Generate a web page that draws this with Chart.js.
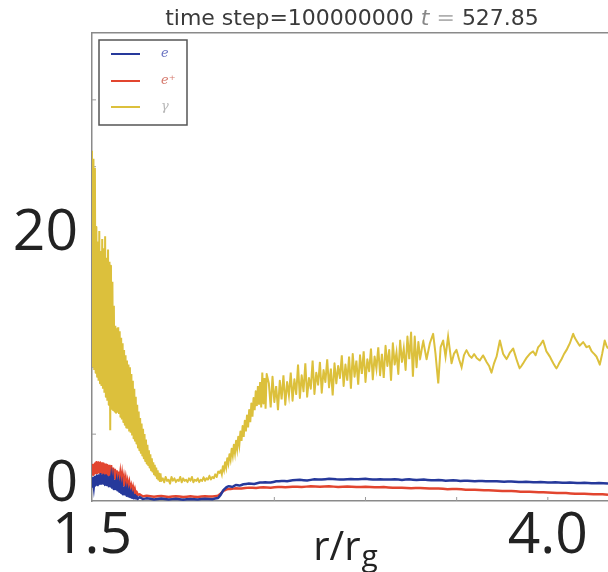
<!DOCTYPE html>
<html><head><meta charset="utf-8">
<script src="https://cdn.jsdelivr.net/npm/chart.js@4/dist/chart.umd.min.js"></script>
<style>html,body{margin:0;padding:0;background:#fff;}canvas{display:block;}</style>
</head><body>
<canvas id="c" width="608" height="572"></canvas>
<script>
const titleText = "time step=100000000 ";
const timeSymbol = "t";
const timeValue = "527.85";
const xAxisLabel = "r/r";
const xAxisLabelSub = "g";
const seriesLabels = ["e", "e\u207A", "\u03B3"];
const xTickValues = [1.5, 4.0];
const yTickValues = [0, 20];
const xMinorTicks = [2.0, 2.5, 3.0, 3.5, 4.0];
const yMinorTicks = [5, 10, 15, 20, 25, 30];

const electronR = [
1.500,1.505,1.510,1.515,1.520,1.525,1.530,1.535,1.540,1.545,
1.550,1.555,1.560,1.565,1.570,1.575,1.580,1.585,1.590,1.595,
1.600,1.605,1.610,1.615,1.620,1.625,1.630,1.635,1.640,1.645,
1.650,1.655,1.660,1.665,1.670,1.675,1.680,1.685,1.690,1.695,
1.700,1.705,1.710,1.715,1.720,1.725,1.730,1.735,1.740,1.745,1.750,
1.760,1.780,1.800,1.840,1.880,1.920,1.960,2.000,2.040,2.080,2.120,2.160,2.190,2.205,2.220,2.235,2.250,2.270,2.290,2.310,2.330,2.360,2.390,2.420,2.450,2.480,2.510,2.540,2.570,2.600,2.640,2.680,2.720,2.760,2.800,2.840,2.880,2.920,2.960,3.000,3.040,3.080,3.120,3.160,3.200,3.240,3.280,3.320,3.360,3.400,3.440,3.480,3.520,3.560,3.600,3.640,3.680,3.720,3.760,3.800,3.840,3.880,3.920,3.960,4.000,4.040,4.080,4.120,4.160,4.200,4.240,4.280,4.330];
const electronVal = [
1.0,1.7,1.1,1.8,1.2,1.9,1.2,1.9,1.3,2.0,
1.3,1.9,1.3,1.9,1.2,1.9,1.2,1.8,1.1,1.8,
1.1,1.7,1.0,1.6,0.9,1.5,0.9,1.4,0.8,1.3,
0.7,1.2,0.6,1.1,0.5,1.0,0.5,0.9,0.4,0.8,
0.35,0.7,0.3,0.6,0.25,0.5,0.2,0.45,0.2,0.35,0.15,
0.3,0.15,0.2,0.12,0.18,0.12,0.16,0.1,0.15,0.12,0.17,0.14,0.22,0.45,0.8,1.0,1.1,1.05,1.2,1.15,1.25,1.3,1.28,1.38,1.4,1.38,1.47,1.5,1.48,1.55,1.58,1.54,1.62,1.6,1.66,1.62,1.6,1.65,1.62,1.66,1.6,1.63,1.6,1.62,1.58,1.62,1.57,1.6,1.55,1.57,1.52,1.55,1.5,1.52,1.48,1.5,1.47,1.48,1.44,1.46,1.42,1.44,1.4,1.42,1.38,1.4,1.36,1.38,1.34,1.36,1.32,1.34,1.3];

const positronR = [
1.500,1.505,1.510,1.515,1.520,1.525,1.530,1.535,1.540,1.545,
1.550,1.555,1.560,1.565,1.570,1.575,1.580,1.585,1.590,1.595,
1.600,1.605,1.610,1.615,1.620,1.625,1.630,1.635,1.640,1.645,
1.650,1.655,1.660,1.665,1.670,1.675,1.680,1.685,1.690,1.695,
1.700,1.705,1.710,1.715,1.720,1.725,1.730,1.735,1.740,1.745,1.750,
1.760,1.780,1.800,1.840,1.880,1.920,1.960,2.000,2.040,2.080,2.120,2.160,2.190,2.205,2.220,2.240,2.260,2.290,2.320,2.360,2.400,2.440,2.480,2.520,2.560,2.600,2.650,2.700,2.750,2.800,2.850,2.900,2.950,3.000,3.050,3.100,3.150,3.200,3.250,3.300,3.350,3.400,3.450,3.500,3.550,3.600,3.650,3.700,3.750,3.800,3.850,3.900,3.950,4.000,4.050,4.100,4.150,4.200,4.250,4.300,4.330];
const positronVal = [
1.9,2.7,2.0,2.8,2.0,2.9,2.1,2.9,2.1,2.9,
2.1,2.9,2.0,2.8,2.0,2.8,1.9,2.7,1.9,2.7,
1.8,2.6,1.8,2.5,1.7,2.4,1.6,2.3,1.5,2.2,
1.4,2.0,1.3,1.9,1.2,1.7,1.1,1.6,1.0,1.4,
0.9,1.3,0.8,1.1,0.7,1.0,0.6,0.85,0.5,0.7,0.45,
0.5,0.35,0.4,0.32,0.38,0.3,0.36,0.3,0.35,0.3,0.36,0.33,0.4,0.55,0.75,0.88,0.9,0.95,0.93,1.0,0.98,1.03,1.0,1.05,1.03,1.07,1.05,1.1,1.07,1.1,1.05,1.08,1.04,1.06,1.02,1.04,0.99,1.0,0.96,0.97,0.93,0.94,0.88,0.9,0.85,0.84,0.8,0.79,0.75,0.74,0.7,0.69,0.66,0.64,0.6,0.59,0.55,0.54,0.5,0.5,0.47];

const photonR = [
1.500,1.504,1.508,1.512,1.516,1.520,1.524,1.528,1.532,1.536,
1.540,1.544,1.548,1.552,1.556,1.560,1.564,1.568,1.572,1.576,
1.580,1.584,1.588,1.592,1.596,1.600,1.604,1.608,1.612,1.616,
1.620,1.624,1.628,1.632,1.636,1.640,1.644,1.648,1.652,1.656,
1.660,1.664,1.668,1.672,1.676,1.680,1.684,1.688,1.692,1.696,
1.700,1.704,1.708,1.712,1.716,1.720,1.724,1.728,1.732,1.736,
1.740,1.744,1.748,1.752,1.756,1.760,1.764,1.768,1.772,1.776,
1.780,1.784,1.788,1.792,1.796,1.800,1.804,1.808,1.812,1.816,
1.820,1.824,1.828,1.832,1.836,1.840,1.844,1.848,1.852,1.856,
1.860,1.864,1.868,1.872,1.876,1.880,
1.888,1.896,1.904,1.912,1.920,1.928,1.936,1.944,1.952,1.960,
1.968,1.976,1.984,1.992,2.000,2.008,2.016,2.024,2.032,2.040,
2.048,2.056,2.064,2.072,2.080,2.088,2.096,2.104,2.112,2.120,
2.128,2.136,2.144,2.152,2.160,2.168,2.176,2.184,2.192,2.200,
2.206,2.212,2.218,2.224,2.230,2.236,2.242,2.248,2.254,2.260,
2.266,2.272,2.278,2.284,2.290,2.296,2.302,2.308,2.314,2.320,
2.326,2.332,2.338,2.344,2.350,2.356,2.362,2.368,2.374,2.380,
2.386,2.392,2.398,2.404,2.410,2.416,2.422,2.428,2.434,2.440,
2.446,2.452,2.458,
2.47,2.48,2.49,2.50,2.51,2.52,2.53,2.54,2.55,2.56,
2.57,2.58,2.59,2.60,2.61,2.62,2.63,2.64,2.65,2.66,
2.67,2.68,2.69,2.70,2.71,2.72,2.73,2.74,2.75,2.76,
2.77,2.78,2.79,2.80,2.81,2.82,2.83,2.84,2.85,2.86,
2.87,2.88,2.89,2.90,2.91,2.92,2.93,2.94,2.95,2.96,
2.97,2.98,2.99,3.00,3.01,3.02,3.03,3.04,3.05,3.06,
3.07,3.08,3.09,3.10,3.11,3.12,3.13,3.14,3.15,3.16,
3.17,3.18,3.19,3.20,3.21,3.22,3.23,3.24,3.25,3.26,
3.27,3.28,3.29,3.30,
3.316,3.335,3.353,3.371,3.384,3.399,3.412,3.426,3.439,3.453,
3.472,3.485,3.499,3.513,3.527,3.540,3.554,3.568,3.582,3.596,
3.609,3.627,3.645,3.664,3.678,3.691,3.705,3.719,3.737,3.755,
3.774,3.792,3.810,3.828,3.846,3.865,3.883,3.901,3.919,3.933,
3.947,3.960,3.974,3.992,4.011,4.030,4.048,4.062,4.075,4.089,
4.103,4.121,4.139,4.148,4.157,4.175,4.194,4.212,4.226,4.240,
4.254,4.267,4.285,4.298,4.312,4.322,4.330];
const photonVal = [
26.2,10.0,25.6,9.8,24.9,9.6,20.5,9.3,19.4,9.0,
20.2,8.8,18.7,8.6,19.6,8.4,18.9,8.1,19.8,7.8,
18.2,7.5,18.8,7.2,17.9,5.3,17.6,6.9,16.4,6.8,
14.6,6.7,13.1,6.6,12.9,6.6,13.0,6.5,12.7,6.3,
12.2,6.1,11.8,5.9,11.3,5.7,10.9,5.5,10.5,5.4,
10.2,5.2,10.0,5.1,9.5,4.9,9.0,4.7,8.4,4.5,
7.8,4.3,7.2,4.0,6.7,3.8,6.2,3.6,5.8,3.4,
5.4,3.2,5.0,3.0,4.6,2.8,4.2,2.7,3.8,2.5,
3.5,2.3,3.2,2.2,2.9,2.0,2.7,1.9,2.5,1.7,
2.3,1.6,2.1,1.5,2.0,1.5,
1.7,1.4,1.8,1.5,1.6,1.3,1.8,1.5,1.7,1.4,
1.6,1.5,1.8,1.4,1.7,1.5,1.6,1.4,1.7,1.5,
1.8,1.4,1.6,1.5,1.7,1.4,1.6,1.5,1.8,1.5,
1.7,1.6,1.9,1.6,1.8,1.7,2.0,1.8,2.2,2.1,
2.3,2.0,2.6,2.3,2.9,2.5,3.2,2.8,3.5,3.1,
3.9,3.4,4.2,3.6,4.5,3.9,4.8,4.2,5.2,4.5,
5.6,4.8,6.0,5.2,6.4,5.5,6.8,5.9,7.3,6.3,
7.7,6.8,8.2,7.1,8.6,7.2,8.9,7.0,9.6,7.3,
9.2,6.9,9.5,
8.8,7.0,9.3,7.4,8.6,6.8,9.0,7.6,9.4,7.2,
8.9,7.9,9.6,7.5,9.1,8.0,10.2,7.7,9.4,8.2,
10.3,7.8,9.2,8.4,10.5,8.0,9.6,8.7,10.4,8.1,
9.8,8.9,10.6,8.5,9.9,7.9,10.3,8.8,10.1,9.2,
10.9,8.6,10.2,9.0,10.8,8.4,11.0,9.3,10.5,8.7,
10.9,9.5,11.2,8.9,10.6,9.7,11.4,9.1,10.8,9.9,
11.5,9.4,11.0,9.2,11.6,10.1,11.3,9.0,11.8,10.2,
11.1,9.5,12.0,10.4,11.4,9.8,12.3,10.6,12.6,9.3,
12.3,10.0,11.9,10.6,
12.0,10.6,11.8,12.5,11.0,8.8,11.5,12.0,10.8,12.3,
10.3,11.0,11.3,10.6,10.0,10.9,11.3,10.9,10.7,11.0,
10.7,10.5,10.9,10.4,10.1,9.6,10.3,10.8,12.0,11.0,
10.6,11.1,11.4,10.6,9.9,10.3,10.7,11.0,11.2,10.9,
11.5,11.7,12.0,11.2,10.8,10.3,9.9,10.3,10.6,11.0,
11.3,11.8,12.5,12.2,12.0,11.6,11.9,11.5,11.6,11.2,
11.0,10.8,10.2,11.0,12.0,11.6,11.4];

const seriesColors = ['#26399b', '#e2452f', '#dcc03c'];
const legendTextColors = ['#6b74c2', '#d67a6e', '#b8b8b8'];

const toPoints = (xs, ys) => xs.map((x, i) => ({x: x, y: ys[i]}));

const decor = {
  id: 'decor',
  beforeDatasetsDraw(chart) {
    const {ctx, chartArea, scales} = chart;
    ctx.save();
    ctx.strokeStyle = '#9a9a9a';
    ctx.lineWidth = 1;
    yMinorTicks.forEach(v => {
      const y = scales.y.getPixelForValue(v);
      ctx.beginPath(); ctx.moveTo(chartArea.left, y); ctx.lineTo(chartArea.left + 4, y); ctx.stroke();
    });
    xMinorTicks.forEach(v => {
      const x = scales.x.getPixelForValue(v);
      ctx.beginPath(); ctx.moveTo(x, chartArea.bottom); ctx.lineTo(x, chartArea.bottom - 4); ctx.stroke();
    });
    ctx.restore();
  },
  afterDraw(chart) {
    const {ctx, chartArea} = chart;
    ctx.save();
    const parts = [
      {t: titleText, f: '22px "DejaVu Sans"', c: '#3a3a3a'},
      {t: timeSymbol, f: 'italic 22px "DejaVu Sans"', c: '#888'},
      {t: ' = ', f: '22px "DejaVu Sans"', c: '#b0b0b0'},
      {t: timeValue, f: '22px "DejaVu Sans"', c: '#3a3a3a'}
    ];
    let total = 0;
    parts.forEach(p => { ctx.font = p.f; p.w = ctx.measureText(p.t).width; total += p.w; });
    let x = chartArea.left + 260 - total / 2;
    ctx.textBaseline = 'alphabetic';
    ctx.textAlign = 'left';
    parts.forEach(p => { ctx.font = p.f; ctx.fillStyle = p.c; ctx.fillText(p.t, x, 25); x += p.w; });

    ctx.font = '40px "Open Sans"';
    const w1 = ctx.measureText(xAxisLabel).width;
    ctx.font = '30px "Open Sans"';
    const w2 = ctx.measureText(xAxisLabelSub).width;
    const startX = 345 - (w1 + w2) / 2;
    ctx.fillStyle = '#222';
    ctx.font = '40px "Open Sans"';
    ctx.fillText(xAxisLabel, startX, 560);
    ctx.font = '30px "Open Sans"';
    ctx.fillText(xAxisLabelSub, startX + w1 + 1, 566);

    const bx = chartArea.left + 7, by = chartArea.top + 7, bw = 88, bh = 85;
    ctx.fillStyle = '#fff';
    ctx.fillRect(bx, by, bw, bh);
    ctx.strokeStyle = '#555';
    ctx.lineWidth = 1.5;
    ctx.strokeRect(bx, by, bw, bh);
    const offs = [14, 41, 67];
    chart.data.datasets.forEach((ds, i) => {
      const ly = by + offs[i];
      ctx.strokeStyle = ds.borderColor;
      ctx.lineWidth = 2;
      ctx.beginPath(); ctx.moveTo(bx + 12, ly); ctx.lineTo(bx + 41, ly); ctx.stroke();
      ctx.fillStyle = legendTextColors[i];
      ctx.font = 'italic 13px "DejaVu Serif"';
      ctx.textBaseline = 'middle';
      ctx.fillText(ds.label, bx + 62, ly);
    });
    ctx.restore();
  }
};

new Chart(document.getElementById('c').getContext('2d'), {
  type: 'line',
  data: {
    datasets: [
      {label: seriesLabels[0], data: toPoints(electronR, electronVal), borderColor: seriesColors[0], borderWidth: 2.5, pointRadius: 0, tension: 0.01, fill: false},
      {label: seriesLabels[1], data: toPoints(positronR, positronVal), borderColor: seriesColors[1], borderWidth: 2.5, pointRadius: 0, tension: 0.01, fill: false},
      {label: seriesLabels[2], data: toPoints(photonR, photonVal), borderColor: seriesColors[2], borderWidth: 2, pointRadius: 0, tension: 0.01, fill: false}
    ]
  },
  options: {
    responsive: false,
    animation: false,
    devicePixelRatio: 1,
    layout: {padding: {top: 33, left: 0, right: 0, bottom: 0}},
    plugins: {legend: {display: false}, title: {display: false}, tooltip: {enabled: false}},
    scales: {
      x: {
        type: 'linear', min: 1.5, max: 4.33, position: 'bottom',
        afterBuildTicks: s => { s.ticks = xTickValues.map(v => ({value: v})); },
        afterFit: s => { s.height = 71; },
        ticks: {autoSkip: false, maxRotation: 0, font: {family: 'Open Sans', size: 57}, color: '#222', padding: 2,
                callback: v => Number(v).toFixed(1)},
        grid: {display: true, drawOnChartArea: false, drawTicks: false, color: 'rgba(0,0,0,0)'},
        border: {display: true, color: '#8a8a8a', width: 1.5}
      },
      xTop: {
        type: 'linear', min: 1.5, max: 4.33, position: 'top',
        ticks: {display: false},
        grid: {display: true, drawOnChartArea: false, drawTicks: false, color: 'rgba(0,0,0,0)'},
        border: {display: true, color: '#8a8a8a', width: 1.5},
        afterFit: s => { s.height = 0; }
      },
      y: {
        min: 0, max: 35,
        afterBuildTicks: s => { s.ticks = yTickValues.map(v => ({value: v})); },
        afterFit: s => { s.width = 92; },
        ticks: {font: {family: 'Open Sans', size: 57, lineHeight: '32px'}, color: '#222', padding: 14,
                callback: v => (v === 0 ? [String(v), ''] : String(v))},
        grid: {display: true, drawOnChartArea: false, drawTicks: false, color: 'rgba(0,0,0,0)'},
        border: {display: true, color: '#8a8a8a', width: 1.5}
      }
    }
  },
  plugins: [decor]
});
</script>
</body></html>
